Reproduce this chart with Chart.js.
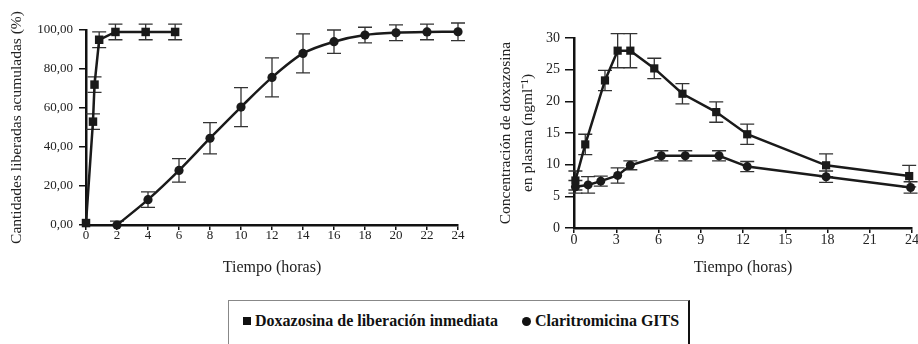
<!DOCTYPE html>
<html>
<head>
<meta charset="utf-8">
<script src="https://cdn.jsdelivr.net/npm/chart.js@4.4.1/dist/chart.umd.min.js"></script>
<style>
  body { margin: 0; background: #fff; width: 918px; height: 344px; overflow: hidden; position: relative; }
  canvas { position: absolute; top: 0; }
  #izq { left: 0; }
  #der { left: 480px; }
  #leyenda {
    position: absolute; left: 228px; top: 300px; width: 459px; height: 60px;
    border-top: 1px solid #888; border-left: 1px solid #888; border-right: 2px solid #111;
    font: bold 16px "Liberation Serif", "Times New Roman", serif; color: #111;
  }
  #leyenda span { position: absolute; top: 11px; white-space: nowrap; }
  .cuadro { display: inline-block; width: 8px; height: 8px; background: #111; margin-right: 4px; vertical-align: 1px; }
  .circulo { display: inline-block; width: 9px; height: 9px; border-radius: 50%; background: #111; margin-right: 4px; vertical-align: 0px; }
</style>
</head>
<body>
<canvas id="izq" width="480" height="290"></canvas>
<canvas id="der" width="438" height="290"></canvas>
<div id="leyenda">
  <span style="left:14px"><i class="cuadro"></i>Doxazosina de liberación inmediata</span>
  <span style="left:293px"><i class="circulo"></i>Claritromicina GITS</span>
</div>
<script>
// liberacion acumulada (%) - grafico izquierdo
var tiempoDoxIR = [0, 0.45, 0.55, 0.85, 1.9, 3.85, 5.75];
var liberadoDoxIR = [1, 53, 72, 95, 99, 99, 99];
var errDoxIR = [0, 4, 4, 4, 4, 4, 4];
var tiempoGITS = [2, 4, 6, 8, 10, 12, 14, 16, 18, 20, 22, 24];
var liberadoGITS = [0, 13, 28, 44.5, 60.5, 75.7, 88, 94, 97.4, 98.6, 99, 99.1];
var errGITS = [2, 4, 6, 8, 10, 10, 10, 6, 4, 4, 4, 4.5];

// concentracion en plasma (ng/ml) - grafico derecho
var tiempoPlasmaDox = [0.1, 0.8, 2.2, 3.1, 4, 5.7, 7.7, 10.1, 12.3, 17.9, 23.8];
var plasmaDox = [7.5, 13.2, 23.3, 28, 28, 25.2, 21.2, 18.3, 14.8, 9.9, 8.2];
var errPlasmaDox = [1.5, 1.6, 1.6, 2.7, 2.7, 1.6, 1.6, 1.6, 1.6, 1.8, 1.7];
var tiempoPlasmaGITS = [0.1, 1, 1.9, 3.1, 4, 6.2, 7.9, 10.3, 12.3, 17.9, 23.9];
var plasmaGITS = [6.5, 6.8, 7.4, 8.3, 9.9, 11.4, 11.4, 11.4, 9.7, 8.1, 6.4];
var errPlasmaGITS = [1, 1.3, 0.8, 1.2, 0.7, 0.8, 0.8, 0.8, 0.8, 0.9, 0.9];

Chart.defaults.font.family = '"Liberation Serif", "Times New Roman", serif';
Chart.defaults.color = '#222';

function puntos(xs, ys) {
  return xs.map(function(x, i) { return { x: x, y: ys[i] }; });
}

// barras de error dibujadas con las escalas del grafico
var barrasError = {
  id: 'barrasError',
  beforeDatasetsDraw: function(chart) {
    var ctx = chart.ctx, sx = chart.scales.x, sy = chart.scales.y;
    ctx.save();
    ctx.strokeStyle = '#333';
    ctx.lineWidth = 1.3;
    chart.data.datasets.forEach(function(ds) {
      ds.data.forEach(function(p, j) {
        var e = ds.errores[j];
        if (!e) return;
        var x = sx.getPixelForValue(p.x);
        var yArr = sy.getPixelForValue(p.y + e);
        var abajo = p.y - e;
        ctx.beginPath();
        ctx.moveTo(x - 7, yArr); ctx.lineTo(x + 7, yArr);
        if (abajo >= sy.min) {
          var yAb = sy.getPixelForValue(abajo);
          ctx.moveTo(x, yArr); ctx.lineTo(x, yAb);
          ctx.moveTo(x - 7, yAb); ctx.lineTo(x + 7, yAb);
        } else {
          ctx.moveTo(x, yArr); ctx.lineTo(x, sy.getPixelForValue(sy.min));
        }
        ctx.stroke();
      });
    });
    ctx.restore();
  }
};

function serie(datos, errores, estilo, radio, tension) {
  return {
    data: datos,
    errores: errores,
    borderColor: '#1a1a1a',
    backgroundColor: '#1a1a1a',
    borderWidth: 2.5,
    pointStyle: estilo,
    pointRadius: radio,
    pointBorderWidth: 0,
    tension: tension,
    clip: false
  };
}

function ejes(cfg) {
  return {
    x: {
      type: 'linear', min: 0, max: 24,
      ticks: { stepSize: cfg.pasoX, font: { size: cfg.fuente }, padding: cfg.padX, color: '#222' },
      grid: { drawOnChartArea: false, drawTicks: true, tickLength: 5, color: '#111', lineWidth: 1.5 },
      border: { color: '#111', width: 2.5 },
      title: { display: true, text: 'Tiempo (horas)', font: { size: 16 }, padding: { top: 0, bottom: cfg.tituloX } },
      afterFit: function(s) { s.height = cfg.altoX; }
    },
    y: {
      min: 0, max: cfg.maxY,
      ticks: { stepSize: cfg.pasoY, font: { size: cfg.fuente }, padding: cfg.padY, color: '#222', callback: cfg.formato },
      grid: { drawOnChartArea: false, drawTicks: true, tickLength: cfg.largoTickY, color: '#111', lineWidth: 1.5 },
      border: { color: '#111', width: 2.5 },
      title: { display: true, text: cfg.tituloY, font: { size: 15.5, lineHeight: 1.4 }, padding: { top: cfg.tituloPad, bottom: 0 } },
      afterFit: function(s) { s.width = cfg.anchoY; }
    }
  };
}

new Chart(document.getElementById('izq'), {
  type: 'line',
  data: {
    datasets: [
      serie(puntos(tiempoDoxIR, liberadoDoxIR), errDoxIR, 'rect', 6, 0),
      serie(puntos(tiempoGITS, liberadoGITS), errGITS, 'circle', 4.6, 0.3)
    ]
  },
  options: {
    responsive: false, animation: false, devicePixelRatio: 1,
    layout: { padding: { left: 0, right: 22, top: 30, bottom: 0 } },
    plugins: { legend: { display: false }, tooltip: { enabled: false } },
    scales: ejes({
      pasoX: 2, padX: -2, tituloX: 13, altoX: 65, fuente: 13,
      maxY: 100, pasoY: 20, padY: 6, largoTickY: 7, anchoY: 86, tituloPad: 6,
      tituloY: 'Cantidades liberadas acumuladas (%)',
      formato: function(v) { return v.toFixed(2).replace('.', ','); }
    })
  },
  plugins: [barrasError]
});

new Chart(document.getElementById('der'), {
  type: 'line',
  data: {
    datasets: [
      serie(puntos(tiempoPlasmaDox, plasmaDox), errPlasmaDox, 'rect', 5.8, 0),
      serie(puntos(tiempoPlasmaGITS, plasmaGITS), errPlasmaGITS, 'circle', 4.5, 0)
    ]
  },
  options: {
    responsive: false, animation: false, devicePixelRatio: 1,
    layout: { padding: { left: 0, right: 6, top: 38, bottom: 0 } },
    plugins: { legend: { display: false }, tooltip: { enabled: false } },
    scales: ejes({
      pasoX: 3, padX: -1, tituloX: 13, altoX: 62, fuente: 14,
      maxY: 30, pasoY: 5, padY: 5, largoTickY: 9, anchoY: 94, tituloPad: 15,
      tituloY: ['Concentración de doxazosina', 'en plasma (ngml⁻¹)'],
      formato: function(v) { return v; }
    })
  },
  plugins: [barrasError]
});
</script>
</body>
</html>
